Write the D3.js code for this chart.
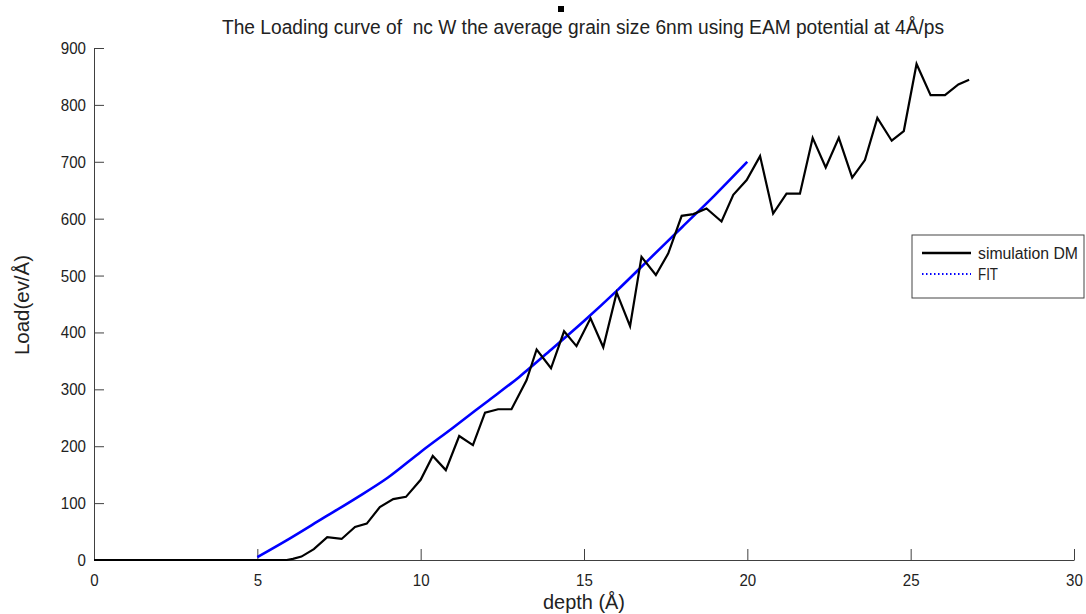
<!DOCTYPE html>
<html>
<head>
  <meta charset="UTF-8">
  <style>
    body { margin: 0; background: #fff; }
    svg text { font-family: "Liberation Sans", Arial, sans-serif; fill: #222; }
  </style>
</head>
<body>
  <svg id="chart"></svg>
  <script src="https://d3js.org/d3.v7.min.js"></script>
  <script>
    let width = 1086, height = 614;

    // simulation DM (black)
    const simDepth = [0, 5.9, 6.09, 6.35, 6.73, 7.14, 7.58, 7.99, 8.35, 8.75, 9.16, 9.55, 10.0, 10.37, 10.77,
      11.18, 11.6, 11.97, 12.37, 12.78, 13.24, 13.55, 13.99, 14.39, 14.77, 15.2, 15.59, 16.0, 16.41, 16.76,
      17.2, 17.58, 17.99, 18.35, 18.75, 19.21, 19.57, 19.98, 20.39, 20.79, 21.2, 21.61, 22.0, 22.4, 22.8,
      23.21, 23.6, 23.98, 24.42, 24.79, 25.18, 25.61, 26.05, 26.46, 26.79];
    const simLoad = [0, 0, 2, 6, 19, 40, 37, 58, 64, 93, 107, 111, 141, 183, 158,
      218, 202, 259, 265, 265, 316, 370, 337, 402, 376, 425, 374, 470, 411, 533,
      501, 539, 605, 608, 618, 595, 642, 668, 710, 609, 644, 644, 742, 690, 742,
      672, 703, 777, 737, 754, 872, 817, 817, 836, 844];

    // FIT (blue)
    const fitDepth = [5, 6, 7, 8, 9, 10, 11, 12, 13, 14, 15, 16, 17, 18, 19, 20];
    const fitLoad = [5, 38, 73, 108, 145, 190, 233, 277, 321, 370, 420, 473, 529, 585, 641, 700];

    const xTicks = [0, 5, 10, 15, 20, 25, 30];
    const yTicks = [0, 100, 200, 300, 400, 500, 600, 700, 800, 900];

    let svg = d3.select("#chart")
      .attr("width", width)
      .attr("height", height);

    let x = d3.scaleLinear().domain([0, 30]).range([94, 1074]);
    let y = d3.scaleLinear().domain([0, 900]).range([560, 48]);

    // axes, MATLAB style: ticks pointing inward
    let xAxis = svg.append("g")
      .attr("transform", "translate(0," + y(0) + ")")
      .call(d3.axisBottom(x).tickValues(xTicks).tickSize(-11).tickPadding(14).tickSizeOuter(0));
    let yAxis = svg.append("g")
      .attr("transform", "translate(" + x(0) + ",0)")
      .call(d3.axisLeft(y).tickValues(yTicks).tickSize(-10).tickPadding(8).tickSizeOuter(0));

    [xAxis, yAxis].forEach(a => {
      a.select(".domain").attr("stroke", "#404040");
      a.selectAll(".tick line").attr("stroke", "#404040");
      a.selectAll(".tick text")
        .attr("font-size", 17)
        .attr("fill", "#222")
        .attr("textLength", function () { return this.textContent.length * 8.4; })
        .attr("lengthAdjust", "spacingAndGlyphs");
    });

    let line = d3.line().x(d => x(d[0])).y(d => y(d[1]));

    svg.append("path")
      .datum(fitDepth.map((d, i) => [d, fitLoad[i]]))
      .attr("fill", "none")
      .attr("stroke", "#0000ff")
      .attr("stroke-width", 2.6)
      .attr("d", line.curve(d3.curveMonotoneX));

    svg.append("path")
      .datum(simDepth.map((d, i) => [d, simLoad[i]]))
      .attr("fill", "none")
      .attr("stroke", "#000")
      .attr("stroke-width", 2.2)
      .attr("d", line.curve(d3.curveLinear));

    // title
    svg.append("text")
      .attr("x", 222).attr("y", 34)
      .attr("font-size", 20)
      .attr("textLength", 722)
      .attr("lengthAdjust", "spacingAndGlyphs")
      .attr("xml:space", "preserve")
      .text("The Loading curve of  nc W the average grain size 6nm using EAM potential at 4Å/ps");
    svg.append("rect")
      .attr("x", 558).attr("y", 6).attr("width", 6).attr("height", 6)
      .attr("fill", "#000");

    // axis labels
    svg.append("text")
      .attr("x", 543).attr("y", 609)
      .attr("font-size", 20)
      .attr("textLength", 82)
      .attr("lengthAdjust", "spacingAndGlyphs")
      .text("depth (Å)");
    svg.append("text")
      .attr("transform", "translate(29,355) rotate(-90)")
      .attr("font-size", 20)
      .attr("textLength", 100)
      .attr("lengthAdjust", "spacingAndGlyphs")
      .text("Load(ev/Å)");

    // legend
    let legend = svg.append("g");
    legend.append("rect")
      .attr("x", 912).attr("y", 235).attr("width", 172).attr("height", 63)
      .attr("fill", "#fff").attr("stroke", "#444").attr("stroke-width", 1);
    legend.append("line")
      .attr("x1", 922).attr("x2", 971).attr("y1", 253).attr("y2", 253)
      .attr("stroke", "#000").attr("stroke-width", 2.5);
    legend.append("text")
      .attr("x", 978).attr("y", 259).attr("font-size", 16)
      .attr("textLength", 100).attr("lengthAdjust", "spacingAndGlyphs")
      .text("simulation DM");
    legend.append("line")
      .attr("x1", 922).attr("x2", 971).attr("y1", 274).attr("y2", 274)
      .attr("stroke", "#0000ff").attr("stroke-width", 2)
      .attr("stroke-dasharray", "1.5,2.5");
    legend.append("text")
      .attr("x", 978).attr("y", 280).attr("font-size", 16)
      .attr("textLength", 20).attr("lengthAdjust", "spacingAndGlyphs")
      .text("FIT");
  </script>
</body>
</html>
